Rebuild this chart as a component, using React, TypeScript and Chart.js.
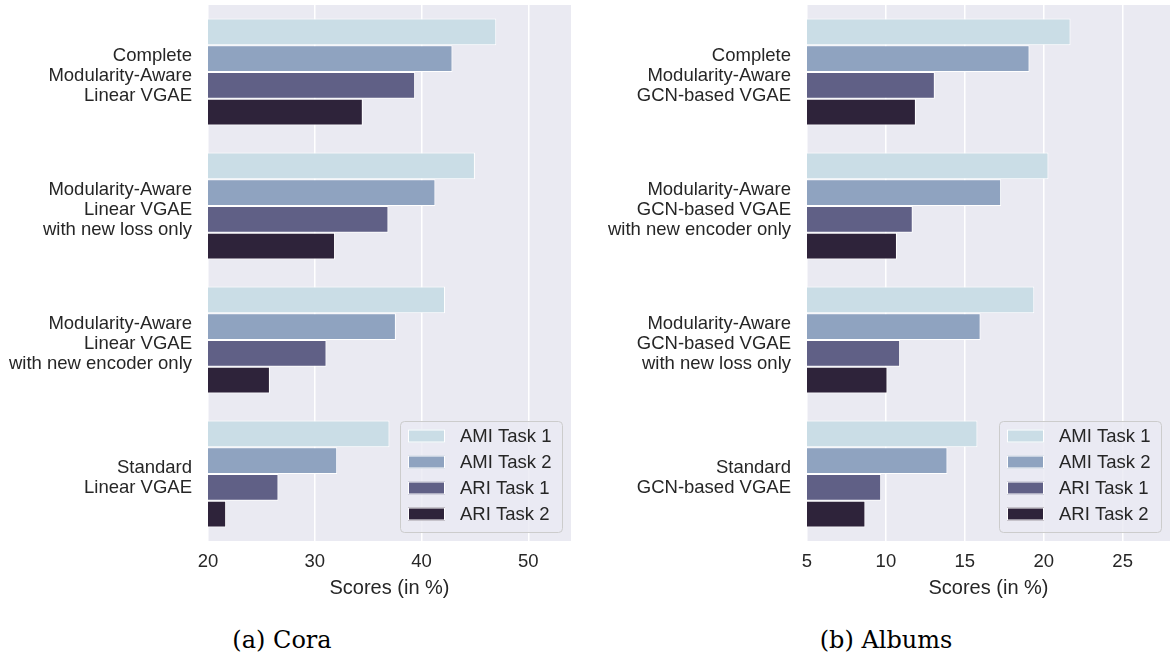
import React, { useEffect, useRef } from "react";
import { Chart, registerables } from "chart.js";

Chart.register(...registerables);

const seriesNames = ["AMI Task 1", "AMI Task 2", "ARI Task 1", "ARI Task 2"];
const seriesColors = ["#cadde6", "#8fa3c0", "#606086", "#2e233a"];

const coraCategories = [
  ["Complete", "Modularity-Aware", "Linear VGAE"],
  ["Modularity-Aware", "Linear VGAE", "with new loss only"],
  ["Modularity-Aware", "Linear VGAE", "with new encoder only"],
  ["Standard", "Linear VGAE"],
];
const coraAmi1 = [47.0, 45.0, 42.2, 37.0];
const coraAmi2 = [42.9, 41.3, 37.6, 32.1];
const coraAri1 = [39.4, 36.9, 31.1, 26.6];
const coraAri2 = [34.5, 31.9, 25.8, 21.7];
const coraTicks = [20, 30, 40, 50];

const albumsCategories = [
  ["Complete", "Modularity-Aware", "GCN-based VGAE"],
  ["Modularity-Aware", "GCN-based VGAE", "with new encoder only"],
  ["Modularity-Aware", "GCN-based VGAE", "with new loss only"],
  ["Standard", "GCN-based VGAE"],
];
const albumsAmi1 = [21.7, 20.3, 19.4, 15.8];
const albumsAmi2 = [19.1, 17.3, 16.0, 13.9];
const albumsAri1 = [13.1, 11.7, 10.9, 9.7];
const albumsAri2 = [11.9, 10.7, 10.1, 8.7];
const albumsTicks = [5, 10, 15, 20, 25];

const FONT = "'Liberation Sans', Arial, sans-serif";
const TEXT = "#262626";

const bgPlugin = {
  id: "plotBg",
  beforeDraw(chart: any) {
    const { ctx, chartArea } = chart;
    ctx.save();
    ctx.fillStyle = "#eaeaf2";
    ctx.fillRect(chartArea.left, chartArea.top, chartArea.right - chartArea.left, chartArea.bottom - chartArea.top);
    ctx.restore();
  },
};

const legendPlugin = {
  id: "insideLegend",
  afterDraw(chart: any) {
    const { ctx, chartArea } = chart;
    const w = 162;
    const h = 111;
    const x = chartArea.right - 9 - w;
    const y = chartArea.bottom - 9 - h;
    ctx.save();
    ctx.beginPath();
    if (ctx.roundRect) ctx.roundRect(x + 0.5, y + 0.5, w, h, 4);
    else ctx.rect(x + 0.5, y + 0.5, w, h);
    ctx.fillStyle = "rgba(234,234,242,0.8)";
    ctx.fill();
    ctx.strokeStyle = "#cccccc";
    ctx.lineWidth = 1;
    ctx.stroke();
    chart.data.datasets.forEach((ds: any, i: number) => {
      const cy = y + 15 + i * 26;
      ctx.fillStyle = ds.backgroundColor;
      ctx.fillRect(x + 8, cy - 6.5, 37, 13);
      ctx.strokeStyle = "#ffffff";
      ctx.lineWidth = 1;
      ctx.strokeRect(x + 8.5, cy - 6, 36, 12);
      ctx.fillStyle = TEXT;
      ctx.font = `18.5px ${FONT}`;
      ctx.textBaseline = "middle";
      ctx.textAlign = "left";
      ctx.fillText(ds.label, x + 60, cy + 1);
    });
    ctx.restore();
  },
};

type PanelProps = {
  left: number;
  categories: string[][];
  series: number[][];
  min: number;
  max: number;
  ticks: number[];
  yWidth: number;
  padRight: number;
};

function Panel({ left, categories, series, min, max, ticks, yWidth, padRight }: PanelProps) {
  const ref = useRef<HTMLCanvasElement | null>(null);
  useEffect(() => {
    if (!ref.current) return;
    const step = ticks[1] - ticks[0];
    const chart = new Chart(ref.current, {
      type: "bar",
      data: {
        labels: categories,
        datasets: series.map((vals, i) => ({
          label: seriesNames[i],
          data: vals,
          backgroundColor: seriesColors[i],
          borderColor: "#ffffff",
          borderWidth: 1,
          categoryPercentage: 0.8,
          barPercentage: 1.0,
        })),
      },
      options: {
        indexAxis: "y",
        responsive: false,
        animation: false,
        devicePixelRatio: 1,
        layout: { padding: { top: 5, right: padRight, left: 0, bottom: 0 } },
        plugins: { legend: { display: false }, tooltip: { enabled: false } },
        scales: {
          x: {
            min,
            max,
            border: { display: false },
            grid: { color: "#ffffff", lineWidth: 1.5, drawTicks: false },
            ticks: {
              stepSize: step,
              includeBounds: false,
              padding: 10,
              color: TEXT,
              font: { family: FONT, size: 18.5 },
            },
            title: {
              display: true,
              text: "Scores (in %)",
              color: TEXT,
              font: { family: FONT, size: 20 },
              padding: { top: 0, bottom: 10 },
            },
            afterFit: (scale: any) => {
              scale.height = 69;
              scale.paddingLeft = 0;
              scale.paddingRight = 0;
            },
          },
          y: {
            border: { display: false },
            grid: { display: false, drawTicks: false },
            ticks: {
              padding: 16,
              labelOffset: 4,
              color: TEXT,
              font: { family: FONT, size: 18.5, lineHeight: 1.1 },
            },
            afterFit: (scale: any) => {
              scale.width = yWidth;
              scale.paddingTop = 0;
              scale.paddingBottom = 0;
            },
          },
        },
      },
      plugins: [bgPlugin, legendPlugin],
    } as any);
    return () => chart.destroy();
  }, []);
  return (
    <canvas
      ref={ref}
      width={585}
      height={610}
      style={{ position: "absolute", left, top: 0, width: 585, height: 610 }}
    />
  );
}

export default function App() {
  const captionStyle: React.CSSProperties = {
    position: "absolute",
    top: 625,
    width: 240,
    textAlign: "center",
    fontFamily: "'DejaVu Serif', 'Liberation Serif', serif",
    fontSize: 24,
    lineHeight: "30px",
    color: "#000",
  };
  return (
    <div style={{ position: "absolute", left: 0, top: 0, width: 1170, height: 659, background: "#fff", overflow: "hidden" }}>
      <Panel
        left={0}
        categories={coraCategories}
        series={[coraAmi1, coraAmi2, coraAri1, coraAri2]}
        min={20}
        max={54}
        ticks={coraTicks}
        yWidth={208}
        padRight={14}
      />
      <Panel
        left={585}
        categories={albumsCategories}
        series={[albumsAmi1, albumsAmi2, albumsAri1, albumsAri2]}
        min={5}
        max={28}
        ticks={albumsTicks}
        yWidth={222}
        padRight={0}
      />
      <div style={{ ...captionStyle, left: 162 }}>(a) Cora</div>
      <div style={{ ...captionStyle, left: 766 }}>(b) Albums</div>
    </div>
  );
}
